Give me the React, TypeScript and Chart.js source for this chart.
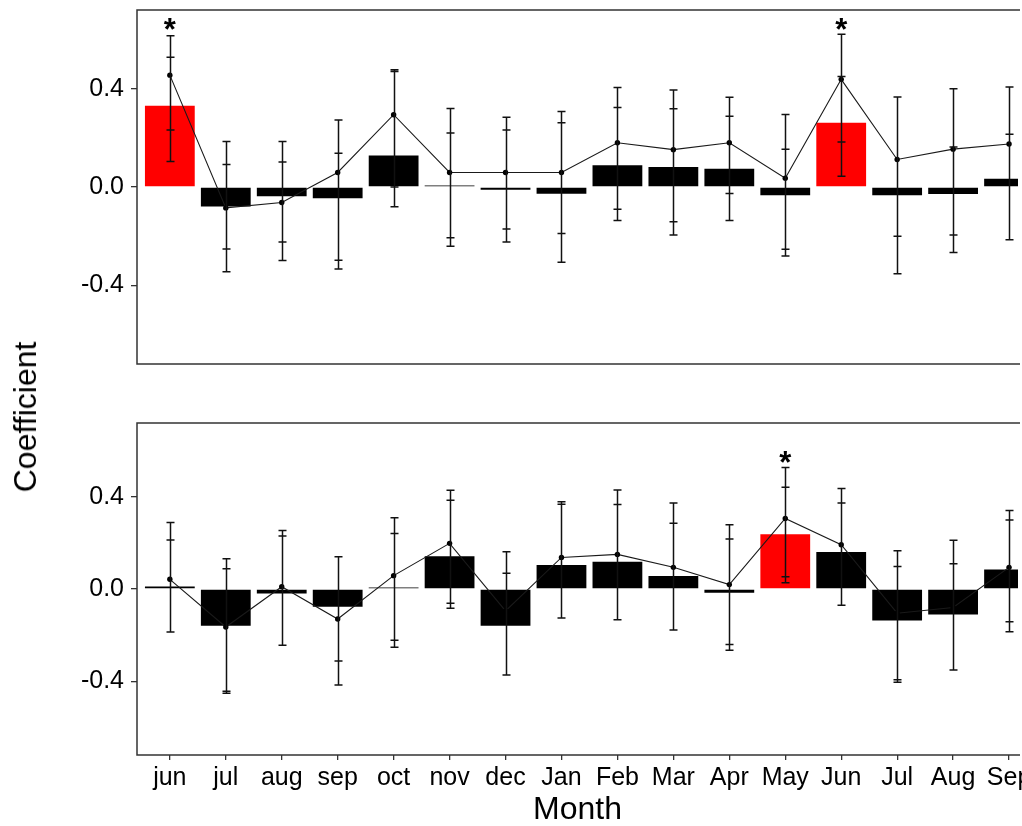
import React, { useEffect, useRef } from 'react';
import { Chart, registerables } from 'chart.js';

Chart.register(...registerables);

// ---------- data ----------
const months = ['jun', 'jul', 'aug', 'sep', 'oct', 'nov', 'dec', 'Jan', 'Feb', 'Mar', 'Apr', 'May', 'Jun', 'Jul', 'Aug', 'Sep'];
const yTickValues = [-0.4, 0, 0.4];

// top panel
const barsTop = [0.331, -0.079, -0.038, -0.046, 0.128, 0.006, -0.011, -0.027, 0.088, 0.081, 0.074, -0.034, 0.261, -0.034, -0.028, 0.034];
const lineTop = [0.455, -0.085, -0.063, 0.059, 0.294, 0.059, 0.059, 0.059, 0.18, 0.152, 0.18, 0.036, 0.438, 0.112, 0.154, 0.175];
const outerHiTop = [0.615, 0.185, 0.185, 0.273, 0.477, 0.319, 0.284, 0.307, 0.405, 0.395, 0.365, 0.295, 0.621, 0.366, 0.4, 0.407];
const outerLoTop = [0.104, -0.345, -0.299, -0.334, -0.08, -0.241, -0.224, -0.306, -0.136, -0.195, -0.136, -0.281, 0.044, -0.353, -0.266, -0.215];
const innerHiTop = [0.528, 0.092, 0.102, 0.137, 0.47, 0.22, 0.232, 0.261, 0.323, 0.318, 0.288, 0.154, 0.45, 0.366, 0.163, 0.215];
const innerLoTop = [0.232, -0.252, -0.224, -0.298, 0.0, -0.206, -0.171, -0.189, -0.09, -0.141, -0.026, -0.253, 0.183, -0.2, -0.195, -0.215];
const sigTop = [0, 12];
const starTop = 0.67;

// bottom panel
const barsBot = [0.011, -0.159, -0.019, -0.077, 0.007, 0.142, -0.159, 0.104, 0.118, 0.056, -0.016, 0.237, 0.16, -0.137, -0.111, 0.085];
const lineBot = [0.042, -0.165, 0.01, -0.13, 0.058, 0.198, -0.095, 0.137, 0.15, 0.094, 0.019, 0.306, 0.192, -0.105, -0.08, 0.094];
const outerHiBot = [0.288, 0.131, 0.254, 0.14, 0.309, 0.428, 0.162, 0.378, 0.429, 0.373, 0.279, 0.527, 0.436, 0.166, 0.211, 0.341];
const outerLoBot = [-0.187, -0.452, -0.244, -0.416, -0.253, -0.084, -0.373, -0.126, -0.133, -0.178, -0.266, 0.027, -0.071, -0.404, -0.351, -0.185];
const innerHiBot = [0.213, 0.088, 0.23, 0.14, 0.241, 0.385, 0.068, 0.368, 0.367, 0.285, 0.217, 0.441, 0.373, 0.098, 0.11, 0.299];
const innerLoBot = [-0.187, -0.443, -0.244, -0.312, -0.222, -0.062, -0.373, -0.126, -0.133, -0.178, -0.241, 0.053, -0.071, -0.394, -0.351, -0.142];
const sigBot = [11];
const starBot = 0.58;

// ---------- styling ----------
const FONT = "'Liberation Sans', Arial, Helvetica, sans-serif";
const X_MIN = -0.587;
const X_MAX = 15.16;
const Y_MIN = -0.72;
const Y_MAX = 0.72;
const RED = '#ff0000';
const INK = '#111111';
const FRAME = '#333333';

type Panel = {
  bars: number[];
  line: number[];
  outerHi: number[];
  outerLo: number[];
  innerHi: number[];
  innerLo: number[];
  sig: number[];
  star: number;
};

const topPanel: Panel = { bars: barsTop, line: lineTop, outerHi: outerHiTop, outerLo: outerLoTop, innerHi: innerHiTop, innerLo: innerLoTop, sig: sigTop, star: starTop };
const botPanel: Panel = { bars: barsBot, line: lineBot, outerHi: outerHiBot, outerLo: outerLoBot, innerHi: innerHiBot, innerLo: innerLoBot, sig: sigBot, star: starBot };

const overlayPlugin = {
  id: 'overlay',
  afterDatasetsDraw(chart: any, _args: any, opts: any) {
    const p: Panel = opts.panel;
    if (!p) return;
    const { ctx, chartArea: a, scales } = chart;
    const x = scales.x;
    const y = scales.y;
    ctx.save();
    ctx.beginPath();
    ctx.rect(a.left, a.top - 40, a.right - a.left, a.bottom - a.top + 40);
    ctx.clip();
    ctx.strokeStyle = INK;
    ctx.lineWidth = 1.5;
    const cap = 4;
    for (let i = 0; i < p.outerHi.length; i++) {
      const px = Math.round(x.getPixelForValue(i)) + 0.5;
      const yh = y.getPixelForValue(p.outerHi[i]);
      const yl = y.getPixelForValue(p.outerLo[i]);
      const ih = y.getPixelForValue(p.innerHi[i]);
      const il = y.getPixelForValue(p.innerLo[i]);
      ctx.beginPath();
      ctx.moveTo(px, yh);
      ctx.lineTo(px, yl);
      for (const yy of [yh, yl, ih, il]) {
        ctx.moveTo(px - cap, yy);
        ctx.lineTo(px + cap, yy);
      }
      ctx.stroke();
    }
    ctx.fillStyle = '#000';
    ctx.font = `bold 31px ${FONT}`;
    ctx.textAlign = 'center';
    ctx.textBaseline = 'alphabetic';
    for (const i of p.sig) {
      const px = x.getPixelForValue(i);
      const py = y.getPixelForValue(p.star);
      ctx.fillText('*', px, py + 18);
    }
    ctx.restore();
  },
  afterDraw(chart: any) {
    const { ctx, chartArea: a } = chart;
    ctx.save();
    ctx.strokeStyle = FRAME;
    ctx.lineWidth = 1.5;
    ctx.beginPath();
    ctx.moveTo(a.right + 2, a.top);
    ctx.lineTo(a.left, a.top);
    ctx.lineTo(a.left, a.bottom);
    ctx.lineTo(a.right + 2, a.bottom);
    ctx.stroke();
    ctx.restore();
  },
};

function makeConfig(p: Panel, showX: boolean): any {
  const barData = p.bars.map((v, i) => ({ x: i, y: v }));
  const lineData = p.line.map((v, i) => ({ x: i, y: v }));
  const barColors = p.bars.map((_, i) => (p.sig.includes(i) ? RED : '#000000'));
  return {
    type: 'bar',
    data: {
      datasets: [
        {
          type: 'line',
          data: lineData,
          borderColor: '#1a1a1a',
          borderWidth: 1.1,
          pointRadius: 2.7,
          pointBackgroundColor: '#000',
          pointBorderColor: '#000',
          pointBorderWidth: 0,
          tension: 0,
          order: 1,
        },
        {
          type: 'bar',
          data: barData,
          backgroundColor: barColors,
          borderWidth: 0,
          categoryPercentage: 1,
          barPercentage: 0.89,
          order: 2,
        },
      ],
    },
    options: {
      animation: false,
      responsive: false,
      maintainAspectRatio: false,
      events: [],
      layout: { padding: showX ? { top: 43, right: 0, bottom: 0, left: 0 } : { top: 10, right: 0, bottom: 6, left: 0 } },
      plugins: {
        legend: { display: false },
        tooltip: { enabled: false },
        overlay: { panel: p },
      },
      scales: {
        x: {
          type: 'linear',
          min: X_MIN,
          max: X_MAX,
          display: showX,
          offset: false,
          afterBuildTicks: (s: any) => {
            s.ticks = months.map((_, i) => ({ value: i }));
          },
          afterFit: (s: any) => {
            if (showX) s.height = 71;
            s.paddingLeft = 0;
            s.paddingRight = 0;
          },
          grid: { offset: false, drawOnChartArea: false, drawTicks: true, tickLength: 5, color: FRAME, lineWidth: 1.3 },
          border: { display: false },
          ticks: {
            autoSkip: false,
            maxRotation: 0,
            minRotation: 0,
            padding: 3,
            color: '#000',
            font: { family: FONT, size: 25 },
            callback: (v: any) => months[v] ?? '',
          },
          title: {
            display: true,
            text: 'Month',
            color: '#000',
            font: { family: FONT, size: 32, lineHeight: 1 },
            padding: { top: 0, bottom: 0 },
          },
        },
        y: {
          type: 'linear',
          min: Y_MIN,
          max: Y_MAX,
          afterBuildTicks: (s: any) => {
            s.ticks = yTickValues.map((v) => ({ value: v }));
          },
          afterFit: (s: any) => {
            s.width = 137;
            s.paddingTop = 0;
            s.paddingBottom = 0;
          },
          grid: { offset: false, drawOnChartArea: false, drawTicks: true, tickLength: 6, color: FRAME, lineWidth: 1.3 },
          border: { display: false },
          ticks: {
            padding: 7,
            color: '#000',
            font: { family: FONT, size: 25 },
            callback: (v: any) => Number(v).toFixed(1),
          },
        },
      },
    },
    plugins: [overlayPlugin],
  };
}

function PanelChart({ panel, showX, top, height }: { panel: Panel; showX: boolean; top: number; height: number }) {
  const ref = useRef<HTMLCanvasElement | null>(null);
  useEffect(() => {
    if (!ref.current) return;
    const chart = new Chart(ref.current, makeConfig(panel, showX));
    return () => chart.destroy();
  }, [panel, showX]);
  return (
    <canvas
      ref={ref}
      width={1022}
      height={height}
      style={{ position: 'absolute', left: 0, top, width: 1022, height, display: 'block' }}
    />
  );
}

export default function App() {
  useEffect(() => {
    document.body.style.margin = '0';
    document.documentElement.style.overflow = 'hidden';
    document.body.style.background = '#fff';
  }, []);
  return (
    <div style={{ position: 'relative', width: 1022, height: 826, overflow: 'hidden', background: '#fff' }}>
      <PanelChart panel={topPanel} showX={false} top={0} height={370} />
      <PanelChart panel={botPanel} showX={true} top={380} height={446} />
      <div
        style={{
          position: 'absolute',
          left: 25,
          top: 417,
          transform: 'translate(-50%, -50%) rotate(-90deg)',
          fontFamily: FONT,
          fontSize: 32,
          lineHeight: 1,
          whiteSpace: 'nowrap',
          color: '#000',
        }}
      >
        Coefficient
      </div>
    </div>
  );
}
